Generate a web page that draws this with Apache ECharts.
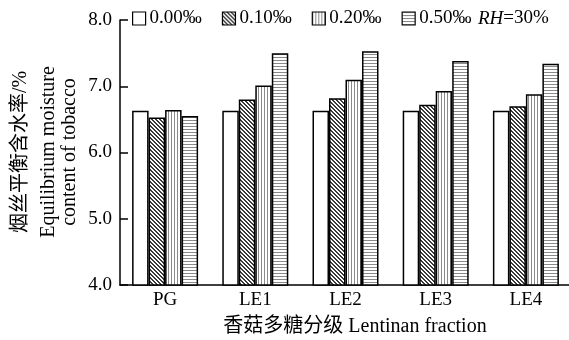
<!DOCTYPE html>
<html><head><meta charset="utf-8">
<script src="https://cdn.jsdelivr.net/npm/echarts@6/dist/echarts.min.js"></script>
<style>html,body{margin:0;padding:0;background:#fff}#c{width:569px;height:340px}</style>
</head><body><div id="c"></div>
<script>
// ---- data ----
const categories = ['PG', 'LE1', 'LE2', 'LE3', 'LE4'];
const seriesNames = ['0.00‰', '0.10‰', '0.20‰', '0.50‰'];
const s000 = [6.63, 6.63, 6.63, 6.63, 6.63];
const s010 = [6.53, 6.80, 6.82, 6.72, 6.70];
const s020 = [6.64, 7.01, 7.10, 6.93, 6.88];
const s050 = [6.55, 7.50, 7.53, 7.38, 7.34];
const yMin = 4.0, yMax = 8.0, yStep = 1.0;
const xTitle = '香菇多糖分级 Lentinan fraction';
const yTitleLines = ['烟丝平衡含水率/%', 'Equilibrium moisture', 'content of tobacco'];
const rhNote = '{i|RH}=30%';

// ---- patterns ----
function pattern(w, h, fn, dark) {
  const c = document.createElement('canvas');
  c.width = w; c.height = h;
  const ctx = c.getContext('2d');
  ctx.fillStyle = '#fff'; ctx.fillRect(0, 0, w, h);
  ctx.fillStyle = dark;
  for (let x = 0; x < w; x++) for (let y = 0; y < h; y++) if (fn(x, y)) ctx.fillRect(x, y, 1, 1);
  return { image: c, repeat: 'repeat' };
}
const fills = [
  '#ffffff',
  pattern(4, 4, (x, y) => ((x - y + 8) % 4) < 2, '#3a3a3a'),
  pattern(3, 3, (x, y) => x === 0, '#8a8a8a'),
  pattern(3, 3, (x, y) => y === 0, '#8a8a8a')
];
const values = [s000, s010, s020, s050];

const FONT = '"Liberation Serif", "Noto Sans CJK SC", serif';
const chart = echarts.init(document.getElementById('c'), null, { renderer: 'canvas' });
chart.setOption({
  animation: false,
  backgroundColor: '#fff',
  grid: { left: 120, top: 20, right: -2, bottom: 55, outerBoundsMode: 'none', containLabel: false },
  legend: {
    data: seriesNames,
    left: 132, top: 9, padding: 0,
    itemWidth: 13, itemHeight: 13, itemGap: 20,
    icon: 'rect',
    textStyle: { fontFamily: FONT, fontSize: 19, color: '#000', padding: [0, 0, 0, -1] },
    itemStyle: { borderColor: '#000', borderWidth: 1.2 }
  },
  xAxis: {
    type: 'category', data: categories,
    axisLine: { lineStyle: { color: '#000', width: 1.5 } },
    axisTick: { inside: true, length: 7, lineStyle: { color: '#000', width: 1.5 } },
    axisLabel: { margin: 6, fontFamily: FONT, fontSize: 19, color: '#000' }
  },
  yAxis: {
    type: 'value', min: yMin, max: yMax, interval: yStep,
    splitLine: { show: false },
    axisLine: { show: true, lineStyle: { color: '#000', width: 1.5 } },
    axisTick: { show: true, inside: true, length: 8, lineStyle: { color: '#000', width: 1.5 } },
    axisLabel: { margin: 8, fontFamily: FONT, fontSize: 19, color: '#000', formatter: v => v.toFixed(1) }
  },
  series: seriesNames.map((n, i) => ({
    name: n, type: 'bar', data: values[i],
    barWidth: 16.5, barGap: '0%',
    itemStyle: { color: fills[i], borderColor: '#000', borderWidth: 1.5 }
  })),
  graphic: [
    { type: 'text', left: 478, top: 9, style: { text: rhNote, font: '19px ' + FONT, fill: '#000',
      rich: { i: { fontStyle: 'italic', fontSize: 19, fontFamily: FONT } } } },
    { type: 'text', x: 355, y: 327, style: { text: xTitle, font: '20px ' + FONT, fill: '#000', align: 'center', verticalAlign: 'middle' } },
    { type: 'text', x: 21, y: 152, rotation: Math.PI / 2, style: { text: yTitleLines[0], font: '20px ' + FONT, fill: '#000', align: 'center', verticalAlign: 'middle' } },
    { type: 'text', x: 49, y: 152, rotation: Math.PI / 2, style: { text: yTitleLines[1], font: '20px ' + FONT, fill: '#000', align: 'center', verticalAlign: 'middle' } },
    { type: 'text', x: 70, y: 152, rotation: Math.PI / 2, style: { text: yTitleLines[2], font: '20px ' + FONT, fill: '#000', align: 'center', verticalAlign: 'middle' } }
  ]
});
</script></body></html>
